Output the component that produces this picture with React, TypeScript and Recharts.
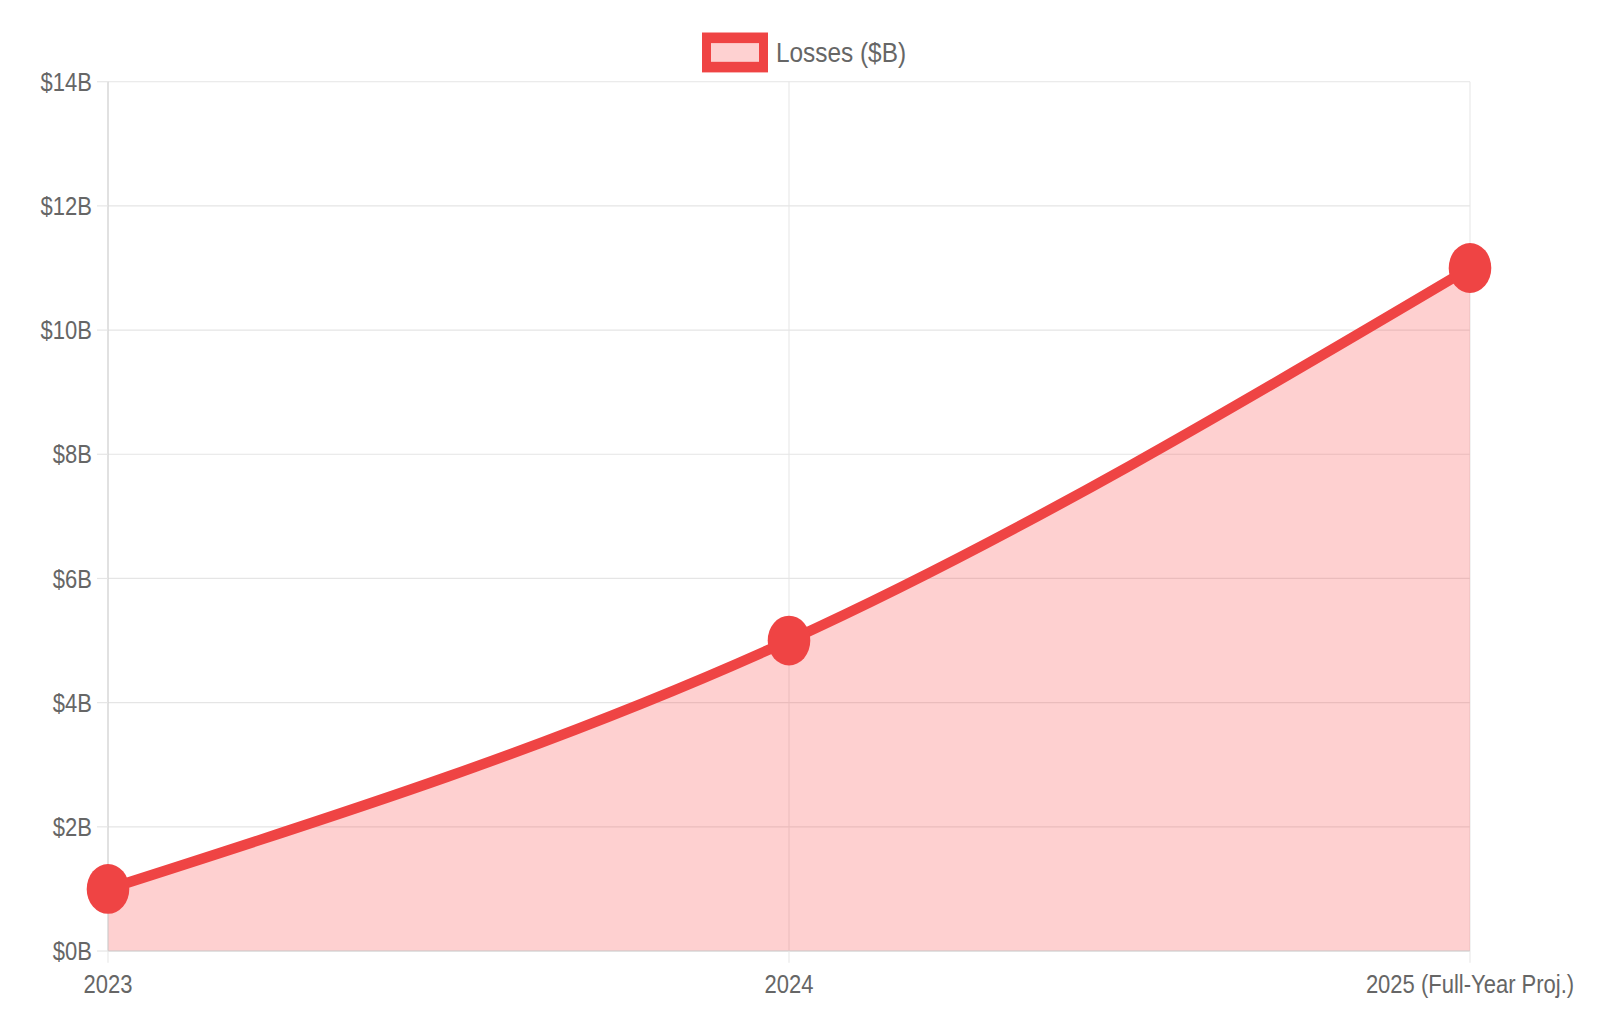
import React from 'react'
import { AreaChart, Area, XAxis, YAxis, CartesianGrid, Legend } from 'recharts'

const YEARS = ['2023', '2024', '2025 (Full-Year Proj.)']
const LOSSES = [1, 5, 11]
const Y_TICKS = [0, 2, 4, 6, 8, 10, 12, 14]

const RED = '#ef4444'
const FILL = '#fb4343'
const GRID = '#e5e5e5'
const TEXT = '#666'
const FONT = '"Liberation Sans", Arial, Helvetica, sans-serif'

const data = YEARS.map((year, i) => ({ year, losses: LOSSES[i] }))

/* ── legend: boxed swatch + label, Chart.js style ───────────────────────── */
function LossLegend() {
  return (
    <div style={{ display: 'flex', justifyContent: 'center', alignItems: 'center', height: 34, fontFamily: FONT }}>
      <div style={{ width: 66, height: 34, boxSizing: 'border-box', border: `9px solid ${RED}`, background: '#fed1d1' }} />
      <span style={{ marginLeft: 8, fontSize: 24.4, color: TEXT, lineHeight: '34px' }}>Losses ($B)</span>
    </div>
  )
}

export default function App() {
  return (
    <div style={{ height: 1008, overflow: 'hidden' }}>
      {/* source picture is stretched vertically ~1.17x */}
      <div style={{ width: 1584, height: 860, transform: 'scale(1, 1.17)', transformOrigin: '0 0', fontFamily: FONT }}>
        <AreaChart width={1584} height={860} data={data} margin={{ top: 63, right: 122, left: 0, bottom: 4 }}>
          <CartesianGrid stroke={GRID} strokeWidth={1} />
          <XAxis
            dataKey="year"
            interval={0}
            height={50}
            tick={{ fontSize: 22, fill: TEXT }}
            tickSize={10}
            tickMargin={10}
            tickLine={{ stroke: GRID }}
            axisLine={{ stroke: '#d0d0d0' }}
          />
          <YAxis
            domain={[0, 14]}
            ticks={Y_TICKS}
            width={100}
            tick={{ fontSize: 22, fill: TEXT }}
            tickFormatter={v => `$${v}B`}
            tickSize={11}
            tickMargin={5}
            tickLine={{ stroke: GRID }}
            axisLine={{ stroke: '#d0d0d0' }}
          />
          <Legend
            verticalAlign="top"
            content={() => <LossLegend />}
            wrapperStyle={{ top: 21, left: 0, width: 1592, height: 0, overflow: 'visible' }}
          />
          <Area
            type="monotone"
            dataKey="losses"
            name="Losses ($B)"
            stroke={RED}
            strokeWidth={9}
            fill={FILL}
            fillOpacity={0.25}
            dot={{ r: 21.3, fill: RED, stroke: RED, strokeWidth: 0, fillOpacity: 1 }}
            activeDot={false}
            isAnimationActive={false}
          />
        </AreaChart>
      </div>
    </div>
  )
}
